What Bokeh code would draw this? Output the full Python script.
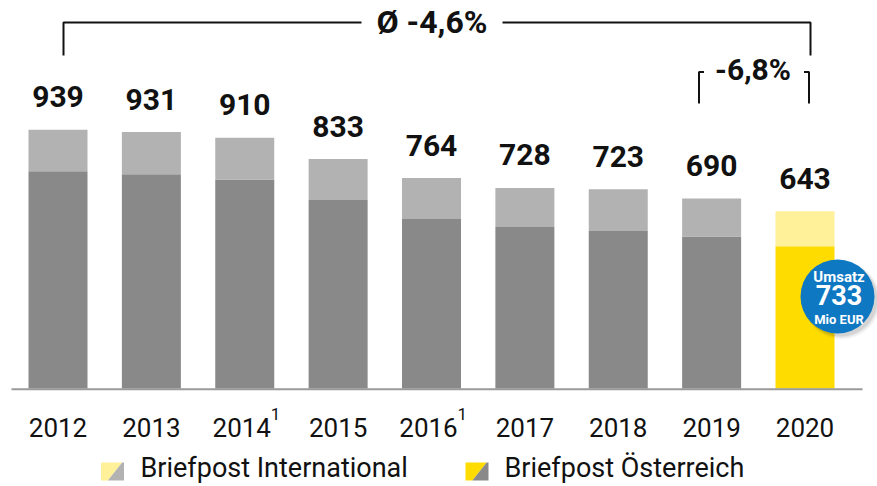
from bokeh.plotting import figure
from bokeh.models import ColumnDataSource, Range1d
from bokeh.core.properties import value
from bokeh.embed import file_html
from bokeh.resources import INLINE

# ---------------- data ----------------
years = ["2012", "2013", "2014", "2015", "2016", "2017", "2018", "2019", "2020"]
footnotes = ["", "", "1", "", "1", "", "", "", ""]
briefpost_oesterreich = [789, 778, 759, 684, 615, 586, 572, 552, 516]
briefpost_international = [150, 153, 151, 149, 149, 142, 151, 138, 127]
totals = [939, 931, 910, 833, 764, 728, 723, 690, 643]
avg_change_label = "Ø -4,6%"
last_change_label = "-6,8%"
umsatz = 733
series_names = ["Briefpost International", "Briefpost Österreich"]

# ---------------- geometry helpers (page pixels -> data) ----------------
W, H = 877, 486
PX_PER_X = 93.375      # pixels per category step
X0_PAGE = 57.5         # page x of first category centre
BASE_PAGE = 388.0      # page y of value 0
U_PER_PX = 3.63        # value units per pixel
BL = 0.4               # correction of rendered baseline (fraction of font size)


def px(page_x):
    return (page_x - X0_PAGE) / PX_PER_X


def py(page_y):
    return (BASE_PAGE - page_y) * U_PER_PX


def dx(pixels):
    return pixels / PX_PER_X


def dy(pixels):
    return pixels * U_PER_PX


def tpy(page_baseline, size):
    """data y so that the glyph baseline lands at the given page y"""
    return py(page_baseline - BL * size)


FONT = value("Roboto")
BLACK = "#111111"

p = figure(width=W, height=H, output_backend="svg", toolbar_location=None,
           x_range=Range1d(px(0), px(W)), y_range=Range1d(py(H), py(0)),
           x_axis_type=None, y_axis_type=None, min_border=0,
           outline_line_color=None, background_fill_color="white",
           border_fill_color="white")

n = len(years)
idx = list(range(n))
dark_cols = ["#898989"] * (n - 1) + ["#ffdc00"]
light_cols = ["#b2b2b2"] * (n - 1) + ["#fff09a"]

LAB_SIZE = 30
src = ColumnDataSource(dict(x=idx, oe=briefpost_oesterreich,
                            tot=[a + b for a, b in zip(briefpost_oesterreich, briefpost_international)],
                            dark=dark_cols, light=light_cols,
                            label=[str(t) for t in totals],
                            lab_y=[t + dy(21 + BL * LAB_SIZE) for t in totals]))

BAR_W = 59 / PX_PER_X
p.vbar(x="x", bottom=0, top="oe", width=BAR_W, fill_color="dark", line_color=None, source=src)
p.vbar(x="x", bottom="oe", top="tot", width=BAR_W, fill_color="light", line_color=None, source=src)

# baseline
p.segment(x0=[px(11)], y0=[py(388.8)], x1=[px(862)], y1=[py(388.8)], line_color="#9a9a9a", line_width=2)

# total labels
p.text(x="x", y="lab_y", text="label", source=src, text_font=FONT, text_font_size=f"{LAB_SIZE}px",
       text_font_style="bold", text_align="center", text_baseline="alphabetic", text_color=BLACK)

# year labels
YR_SIZE, FN_SIZE = 26, 17
yr_x_off = [-3 if f else 0 for f in footnotes]
src_y = ColumnDataSource(dict(x=idx, t=years, off=yr_x_off, fn=footnotes,
                              y=[tpy(437, YR_SIZE)] * n, yf=[tpy(420, FN_SIZE)] * n))
p.text(x="x", y="y", text="t", x_offset="off", source=src_y, text_font=FONT,
       text_font_size=f"{YR_SIZE}px", text_align="center", text_baseline="alphabetic", text_color=BLACK)
p.text(x="x", y="yf", text="fn", x_offset=26, source=src_y, text_font=FONT,
       text_font_size=f"{FN_SIZE}px", text_align="left", text_baseline="alphabetic", text_color=BLACK)

# main bracket (first to last year)
xl = 0 + dx(5.5)
xr = (n - 1) + dx(5.5)
y_line = py(22)
y_end = py(55)
p.multi_line(xs=[[xl, xl, px(361)], [px(502), xr, xr]],
             ys=[[y_end, y_line, y_line], [y_line, y_line, y_end]],
             line_color=BLACK, line_width=2)
p.text(x=[(px(361) + px(502)) / 2], y=[tpy(34.5, 32)], text=[avg_change_label], text_font=FONT,
       text_font_size="32px", text_font_style="bold", text_align="center",
       text_baseline="alphabetic", text_color=BLACK)

# small bracket (last two years)
sl = (n - 2) + dx(-12.6)
sr = (n - 1) + dx(4)
yt = py(71.5)
yb = py(103)
p.multi_line(xs=[[sl + dx(5), sl, sl], [sr - dx(5), sr, sr]],
             ys=[[yt, yt, yb], [yt, yt, yb]], line_color=BLACK, line_width=2)
p.text(x=[(sl + sr) / 2 - dx(1)], y=[tpy(80.5, 30)], text=[last_change_label], text_font=FONT,
       text_font_size="30px", text_font_style="bold", text_align="center",
       text_baseline="alphabetic", text_color=BLACK)

# Umsatz badge with soft shadow
bx, by = px(837), py(296)
for off, sz, a in [(4, 78, 0.04), (3.5, 76, 0.06), (3, 74, 0.08)]:
    p.scatter(x=[bx + dx(off)], y=[by - dy(off)], size=sz, marker="circle",
              fill_color="black", fill_alpha=a, line_color=None)
p.scatter(x=[bx], y=[by], size=74, marker="circle", fill_color="#0f78c3", line_color=None)
for txt, base, size in [("Umsatz", 282, 15), (str(umsatz), 305.5, 27), ("Mio EUR", 324.5, 13)]:
    p.text(x=[bx + dx(1.5)], y=[tpy(base, size)], text=[txt], text_font=FONT,
           text_font_size=f"{size}px", text_font_style="bold", text_align="center",
           text_baseline="alphabetic", text_color="white")


# legend (diagonal split swatches)
def swatch(x0, x1, top, bot, c_yellow, c_gray):
    w = x1 - x0
    xa = x0 + 0.3 * w
    xb = x1 - 0.08 * w
    p.patch(x=[px(x0), px(x0), px(xb), px(xa)], y=[py(bot), py(top), py(top), py(bot)],
            fill_color=c_yellow, line_color=None)
    p.patch(x=[px(xa), px(xb), px(x1), px(x1)], y=[py(bot), py(top), py(top), py(bot)],
            fill_color=c_gray, line_color=None)


swatch(100.5, 123.5, 462, 480, light_cols[-1], light_cols[0])
swatch(465, 488, 462, 480, dark_cols[-1], dark_cols[0])
LEG_SIZE = 27
p.text(x=[px(140), px(504)], y=[tpy(478.5, LEG_SIZE)] * 2, text=series_names, text_font=FONT,
       text_font_size=f"{LEG_SIZE}px", text_align="left", text_baseline="alphabetic", text_color=BLACK)

open("out.html", "w").write(file_html(p, INLINE))
